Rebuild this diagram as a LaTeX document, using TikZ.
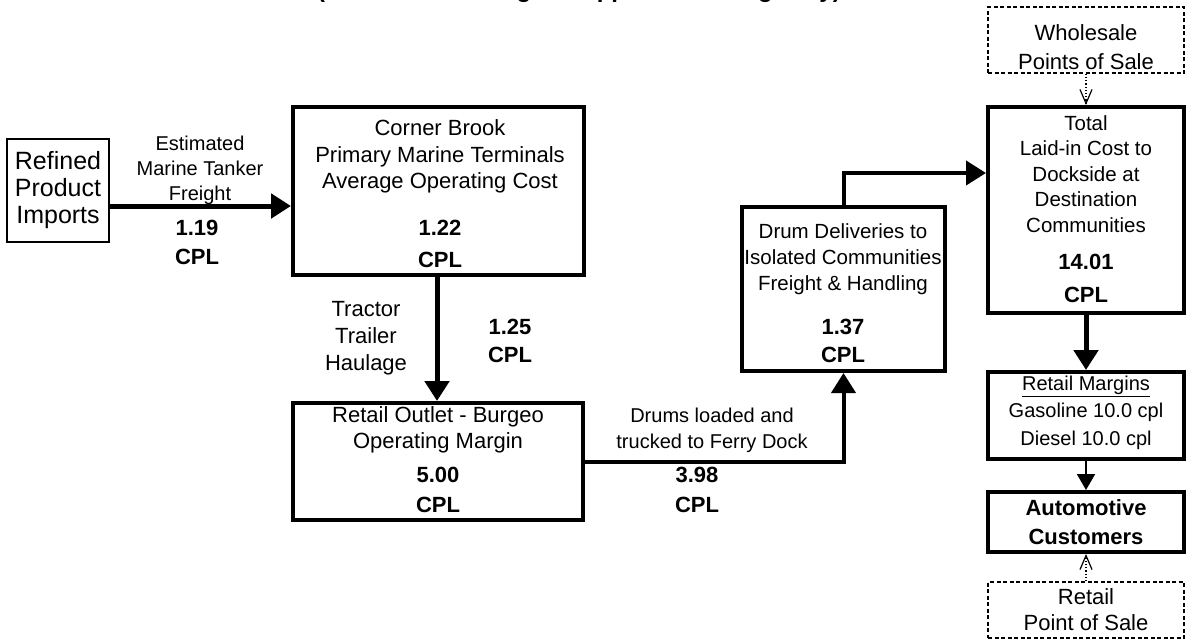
\documentclass[tikz,border=0pt]{standalone}
\usepackage{fontspec}
\setmainfont{Liberation Sans}
\usetikzlibrary{arrows.meta,calc}
\begin{document}
\begin{tikzpicture}[x=1pt,y=-1pt,
  box/.style={draw, line width=4pt, inner sep=0pt, rectangle},
  thinbox/.style={draw, line width=1.5pt, inner sep=0pt, rectangle},
  dashbox/.style={draw, line width=1.5pt, dash pattern=on 4pt off 2.5pt, inner sep=0pt, rectangle},
  txt/.style={inner sep=0pt, align=center, font=\fontsize{22}{26.5}\selectfont},
  lbl/.style={inner sep=0pt, align=center, font=\fontsize{20}{25}\selectfont},
  num/.style={inner sep=0pt, align=center, font=\bfseries\fontsize{22}{30}\selectfont},
  bigarrow/.style={line width=5pt, -{Triangle[length=20pt,width=24pt]}},
  medarrow/.style={line width=4pt, -{Triangle[length=20pt,width=24pt]}},
  thinarrow/.style={line width=2pt, -{Triangle[length=16pt,width=18pt]}},
  dotarrow/.style={line width=1.2pt, dotted, -{Straight Barb[length=14pt,width=12pt,line width=1.2pt]}}
]
\useasboundingbox (0,0) rectangle (1186,640);

% title, cut off by the top edge (only descenders visible)
\node[anchor=base west, inner sep=0pt, font=\bfseries\fontsize{24}{28}\selectfont] (title) at (317,-3) {(Total Cost at Burgeo Supplier Dock Highway)};

% boxes
\node[thinbox, minimum width=102pt, minimum height=103pt] (rp) at (58,190.5) {};
\node[box, minimum width=291pt, minimum height=168pt] (cb) at (438.5,191) {};
\node[box, minimum width=290pt, minimum height=117pt] (ro) at (438,461.5) {};
\node[box, minimum width=203pt, minimum height=164pt] (dd) at (843.5,289) {};
\node[box, minimum width=196pt, minimum height=206pt] (tot) at (1086,210) {};
\node[dashbox, minimum width=196pt, minimum height=66pt] (ws) at (1086,40) {};
\node[box, minimum width=196pt, minimum height=87pt] (rm) at (1086,415.5) {};
\node[box, minimum width=196pt, minimum height=60pt] (ac) at (1086,522) {};
\node[dashbox, minimum width=196pt, minimum height=56pt] (rps) at (1086,610) {};

% box texts
\node[txt, font=\fontsize{25}{27}\selectfont] (rpt) at (58,190) {Refined\\Product\\Imports};
\node[txt] (cbt) at (440,156.5) {Corner Brook\\Primary Marine Terminals\\Average Operating Cost};
\node[num, font=\bfseries\fontsize{22}{32}\selectfont] (cbn) at (440,244) {1.22\\CPL};
\node[txt] (rot) at (438,430) {Retail Outlet - Burgeo\\Operating Margin};
\node[num] (ron) at (438,490) {5.00\\CPL};
\node[txt, font=\fontsize{20.5}{26}\selectfont] (ddt) at (843,259) {Drum Deliveries to\\Isolated Communities\\Freight \& Handling};
\node[num, font=\bfseries\fontsize{22}{28}\selectfont] (ddn) at (843,341) {1.37\\CPL};
\node[txt, font=\fontsize{20.5}{25.5}\selectfont] (tott) at (1086,174) {Total\\Laid-in Cost to\\Dockside at\\Destination\\Communities};
\node[num, font=\bfseries\fontsize{22}{33}\selectfont] (totn) at (1086,278.5) {14.01\\CPL};
\node[txt, font=\fontsize{22}{29}\selectfont] (wst) at (1086,47) {Wholesale\\Points of Sale};
\node[txt, font=\fontsize{20}{27.5}\selectfont] (rmt) at (1086,412.5) {\underline{Retail Margins}\\Gasoline 10.0 cpl\\Diesel 10.0 cpl};
\node[num, font=\bfseries\fontsize{22}{29}\selectfont] (act) at (1086,522.5) {Automotive\\Customers};
\node[txt, font=\fontsize{22}{26}\selectfont] (rpst) at (1086,610) {Retail\\Point of Sale};

% connector labels
\node[lbl] (l1) at (200,170) {Estimated\\Marine Tanker\\Freight};
\node[num, font=\bfseries\fontsize{22}{29}\selectfont] (n1) at (197,242.5) {1.19\\CPL};
\node[txt, font=\fontsize{22}{27}\selectfont] (l2) at (366,338) {Tractor\\Trailer\\Haulage};
\node[num, font=\bfseries\fontsize{22}{28}\selectfont] (n2) at (510,341) {1.25\\CPL};
\node[lbl, font=\fontsize{20}{26}\selectfont] (l3) at (712,430) {Drums loaded and\\trucked to Ferry Dock};
\node[num] (n3) at (697,490) {3.98\\CPL};

% connectors
\draw[bigarrow] ([yshift=-15.5pt]rp.east) -- ([yshift=-15pt]cb.west);
\draw[bigarrow] (cb.south -| 437,0) -- (ro.north -| 437,0);
\draw[medarrow] (ro.east) -| (dd.south);
\draw[medarrow] (dd.north) |- ([yshift=37pt]tot.west);
\draw[dotarrow] (ws.south) -- (tot.north);
\draw[bigarrow] (tot.south) -- (rm.north);
\draw[thinarrow] (rm.south) -- (ac.north);
\draw[dotarrow] (rps.north) -- (ac.south);
\end{tikzpicture}
\end{document}
